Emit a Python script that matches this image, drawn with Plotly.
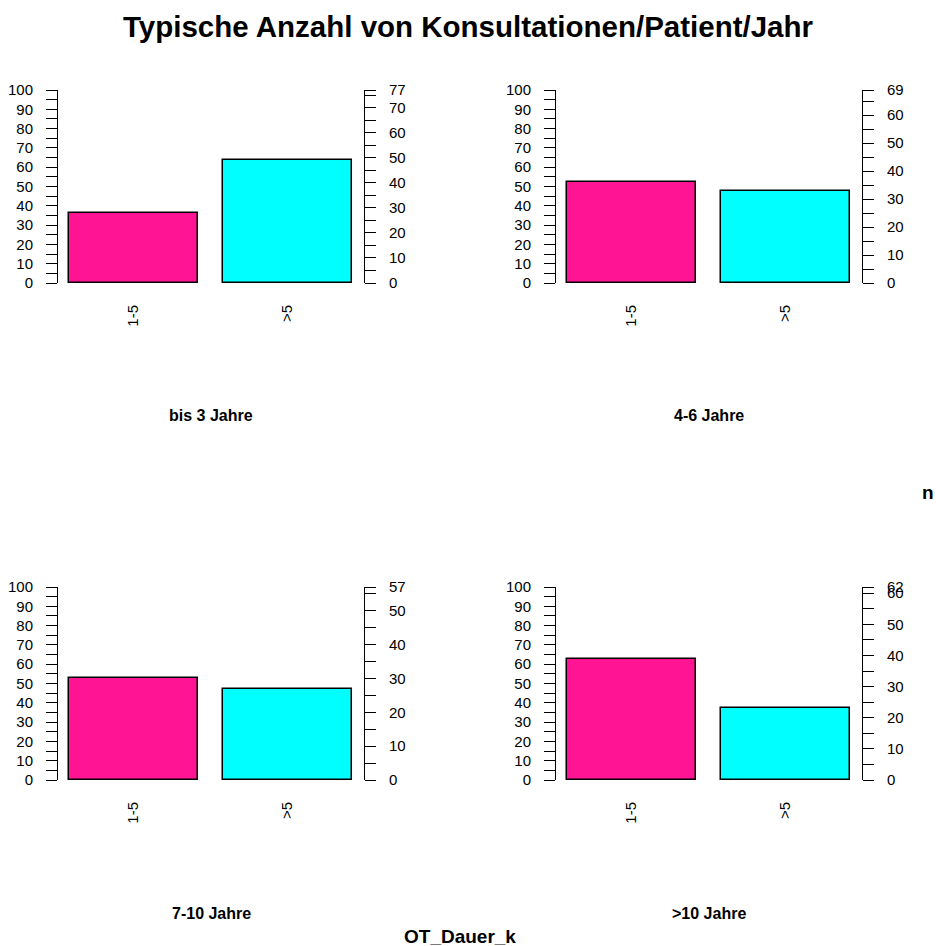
import plotly.graph_objects as go

# Survey data: typical number of consultations per patient and year,
# split by duration of practice (OT_Dauer_k)
categories = ["1-5", ">5"]
groups = ["bis 3 Jahre", "4-6 Jahre", "7-10 Jahre", ">10 Jahre"]
count_1_5 = [28, 36, 30, 39]
count_gt5 = [49, 33, 27, 23]
n_total = [77, 69, 57, 62]

bar_colors = ["#FF1493", "#00FFFF"]

W, H = 936, 946
# panel geometry in pixels (axis left edge, axis right edge) and (y of 0, y of 100)
col_px = [(58, 364), (556, 862)]
row_px = [(283, 90), (780, 587)]

TICK_FONT = dict(family="Liberation Sans, Arial, sans-serif", size=15, color="black")
BOLD = "Liberation Sans, Arial, sans-serif"

fig = go.Figure()
layout = {}
annotations = []

for i, name in enumerate(groups):
    r, c = divmod(i, 2)
    xa = i + 1
    yl = 2 * i + 1
    yr = 2 * i + 2
    xname = "x" if xa == 1 else f"x{xa}"
    ylname = "y" if yl == 1 else f"y{yl}"
    yrname = f"y{yr}"

    n = n_total[i]
    counts = [count_1_5[i], count_gt5[i]]
    pct = [v / n * 100 for v in counts]

    fig.add_trace(go.Bar(
        x=categories, y=pct, xaxis=xname, yaxis=ylname,
        width=[5 / 6] * 2,
        marker=dict(color=bar_colors, line=dict(color="black", width=1.5)),
        showlegend=False,
    ))
    # invisible trace to activate the count axis on the right
    fig.add_trace(go.Scatter(
        x=categories, y=counts, xaxis=xname, yaxis=yrname,
        mode="markers", marker=dict(opacity=0), showlegend=False,
        hoverinfo="skip",
    ))

    x0, x1 = col_px[c]
    yb, yt = row_px[r]
    xdom = [x0 / W, x1 / W]
    ydom = [1 - yb / H, 1 - yt / H]

    layout["xaxis" if xa == 1 else f"xaxis{xa}"] = dict(
        domain=xdom, anchor=ylname, type="category",
        range=[-0.49, 1.497], showline=False, showgrid=False, zeroline=False,
        ticks="", tickangle=-90, tickfont=TICK_FONT, ticklabelstandoff=18,
        fixedrange=True, automargin=False,
    )

    left_vals = list(range(0, 101, 5))
    left_text = [str(v) if v % 10 == 0 else "" for v in left_vals]
    layout["yaxis" if yl == 1 else f"yaxis{yl}"] = dict(
        domain=ydom, anchor=xname, range=[0, 100],
        tickmode="array", tickvals=left_vals, ticktext=left_text,
        ticks="outside", ticklen=11, tickwidth=1, tickcolor="black",
        showline=True, linecolor="black", linewidth=1,
        showgrid=False, zeroline=False, tickfont=TICK_FONT,
        ticklabelstandoff=10, fixedrange=True, automargin=False,
    )

    right_vals = list(range(0, n + 1, 5))
    if right_vals[-1] != n:
        right_vals.append(n)
    right_text = [str(v) if (v % 10 == 0 or v == n) else "" for v in right_vals]
    layout[f"yaxis{yr}"] = dict(
        overlaying=ylname, side="right", anchor=xname, range=[0, n],
        tickmode="array", tickvals=right_vals, ticktext=right_text,
        ticks="outside", ticklen=11, tickwidth=1, tickcolor="black",
        showline=True, linecolor="black", linewidth=1,
        showgrid=False, zeroline=False, tickfont=TICK_FONT,
        ticklabelstandoff=10, fixedrange=True, automargin=False,
    )

    annotations.append(dict(
        text=f"<b>{name}</b>", xref="paper", yref="paper",
        x=((x0 + x1) / 2) / W, y=1 - (415 + 498 * r) / H,
        xanchor="center", yanchor="middle", showarrow=False,
        font=dict(family=BOLD, size=16, color="black"),
    ))

annotations.append(dict(
    text="<b>OT_Dauer_k</b>", xref="paper", yref="paper",
    x=460 / W, y=1 - 936 / H, xanchor="center", yanchor="middle",
    showarrow=False, font=dict(family=BOLD, size=19, color="black"),
))
annotations.append(dict(
    text="<b>n</b>", xref="paper", yref="paper",
    x=1.0, y=1 - 492 / H, xanchor="right", yanchor="middle",
    showarrow=False, font=dict(family=BOLD, size=19, color="black"),
))

fig.update_layout(
    **layout,
    annotations=annotations,
    title=dict(
        text="<b>Typische Anzahl von Konsultationen/Patient/Jahr</b>",
        x=0.5, xanchor="center", xref="paper",
        y=1 - 27 / H, yanchor="middle", yref="container",
        font=dict(family=BOLD, size=29.5, color="black"),
    ),
    width=W, height=H,
    margin=dict(l=0, r=0, t=0, b=0),
    paper_bgcolor="white", plot_bgcolor="white",
    bargap=0,
)

fig.write_html("out.html", config={"displayModeBar": False})
